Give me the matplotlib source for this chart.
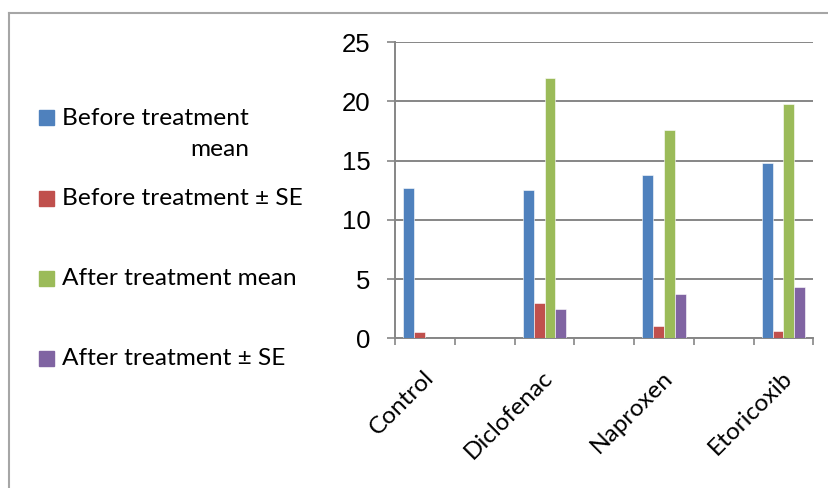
import numpy as np
import matplotlib
matplotlib.use("Agg")
import matplotlib.pyplot as plt
import matplotlib.transforms as mtransforms
from matplotlib.patches import Rectangle
from matplotlib.lines import Line2D

# Category rows (blank rows keep the groups spaced apart)
categories = ["Control", "", "Diclofenac", "", "Naproxen", "", "Etoricoxib"]
series_names = ["Before treatment\nmean", "Before treatment \u00b1 SE",
                "After treatment mean", "After treatment \u00b1 SE"]
before_mean = [12.65, np.nan, 12.5, np.nan, 13.8, np.nan, 14.8]
before_se = [0.56, np.nan, 2.95, np.nan, 1.05, np.nan, 0.62]
after_mean = [0, np.nan, 21.95, np.nan, 17.6, np.nan, 19.8]
after_se = [0, np.nan, 2.45, np.nan, 3.75, np.nan, 4.35]
yticks = [0, 5, 10, 15, 20, 25]

colors = ["#4F81BD", "#C0504D", "#9BBB59", "#8064A2"]
grey = "#868686"
label_font = "Lato"
label_size = 17.6

W, H = 829, 488
fig = plt.figure(figsize=(W / 100, H / 100), dpi=100)
ax = fig.add_axes([395.3 / W, 1 - 338.3 / H, 418 / W, 296.3 / H])

x = np.arange(len(categories))
bw = 1 / 5.5
for i, vals in enumerate([before_mean, before_se, after_mean, after_se]):
    ax.bar(x + (i - 1.5) * bw, vals, width=bw, color=colors[i],
           edgecolor="white", linewidth=0.4, zorder=3)

ax.set_xlim(-0.5, len(categories) - 0.5)
ax.set_ylim(0, 25)
ax.set_yticks(yticks)
ax.set_yticklabels([str(v) for v in yticks], fontfamily="Liberation Sans",
                   fontsize=18.5)
ax.grid(axis="y", color=grey, linewidth=1.4, zorder=0)
ax.tick_params(axis="y", length=6, width=1.2, color=grey, pad=12)

# tick marks between categories, labels at category centres
ax.set_xticks(np.arange(len(categories) + 1) - 0.5)
ax.set_xticklabels([])
ax.tick_params(axis="x", which="major", length=5, width=1.2, color=grey)
ax.set_xticks(x, minor=True)
ax.set_xticklabels(categories, minor=True, rotation=45, ha="right",
                   va="center", rotation_mode="anchor",
                   fontfamily=label_font, fontsize=label_size)
ax.tick_params(axis="x", which="minor", length=0, pad=26)
shift = mtransforms.ScaledTranslation(5 / 100, 0, fig.dpi_scale_trans)
for lbl in ax.get_xticklabels(minor=True):
    lbl.set_transform(lbl.get_transform() + shift)

for s in ["top", "right"]:
    ax.spines[s].set_visible(False)
for s in ["left", "bottom"]:
    ax.spines[s].set_color(grey)
    ax.spines[s].set_linewidth(1.4)

# legend drawn on the left side of the chart area
rows = [117.5, 198.5, 278.7, 358.7]
for name, c, yc in zip(series_names, colors, rows):
    fig.patches.append(Rectangle((39 / W, 1 - (yc + 7.5) / H), 15 / W, 15 / H,
                                 transform=fig.transFigure, color=c))
    if "\n" in name:
        fig.text(62 / W, 1 - (yc - 9.2) / H, name, ha="left", va="top",
                 multialignment="right", linespacing=1.55,
                 fontfamily=label_font, fontsize=label_size)
    else:
        fig.text(62 / W, 1 - yc / H, name, ha="left", va="center",
                 fontfamily=label_font, fontsize=label_size)

# chart frame
fig.lines.append(Line2D([9 / W, 9 / W], [0, 1 - 13 / H], transform=fig.transFigure,
                        color="#a6a6a6", linewidth=1.5))
fig.lines.append(Line2D([9 / W, 1], [1 - 13 / H, 1 - 13 / H], transform=fig.transFigure,
                        color="#a6a6a6", linewidth=1.5))

fig.savefig("out.png", dpi=100)
